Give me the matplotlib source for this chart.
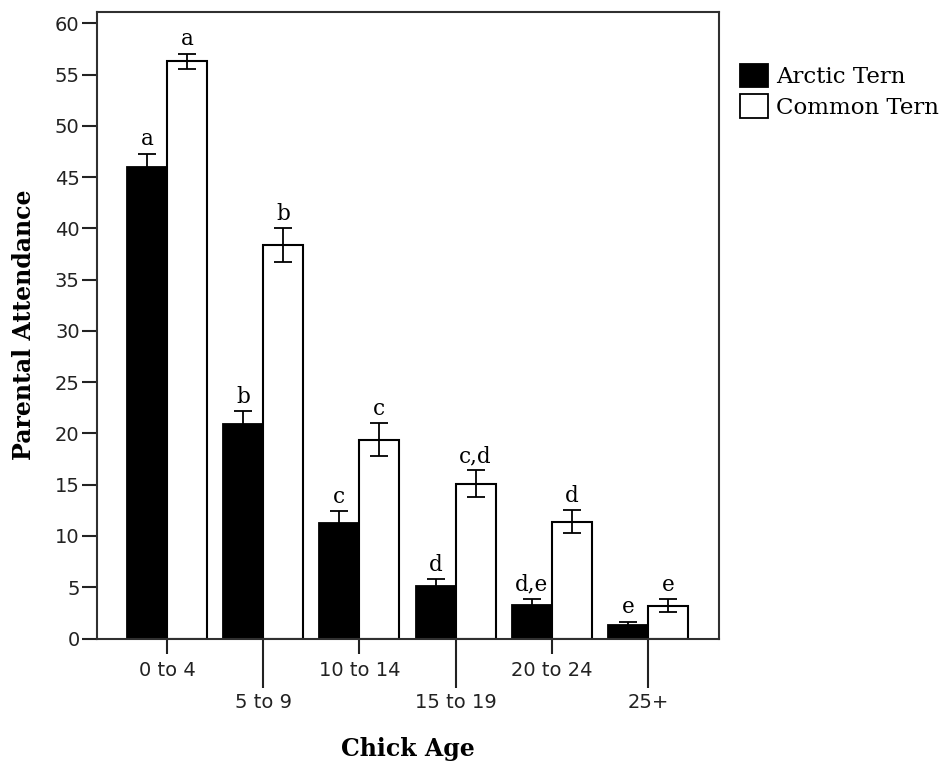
"""Parental attendance by chick age, Arctic vs Common Tern."""

import matplotlib

matplotlib.use("Agg")
import matplotlib.pyplot as plt
from matplotlib.patches import Patch
import numpy as np

age_groups = ["0 to 4", "5 to 9", "10 to 14", "15 to 19", "20 to 24", "25+"]
arctic_mean = [46.0, 20.9, 11.3, 5.1, 3.3, 1.3]
arctic_err = [1.3, 1.3, 1.1, 0.7, 0.6, 0.35]
common_mean = [56.3, 38.4, 19.4, 15.1, 11.4, 3.2]
common_err = [0.75, 1.65, 1.6, 1.3, 1.1, 0.65]
arctic_letters = ["a", "b", "c", "d", "d,e", "e"]
common_letters = ["a", "b", "c", "c,d", "d", "e"]

W, H = 948, 767
fig = plt.figure(figsize=(W / 100, H / 100), dpi=100)
ax = fig.add_axes([97 / W, 1 - 638.5 / H, 622 / W, 626.5 / H])

x = np.arange(len(age_groups))
width = 0.416
ekw = dict(ecolor="black", elinewidth=1.3, capsize=6.5, capthick=1.3)

ax.bar(x - width / 2, arctic_mean, width, color="black", edgecolor="black",
       linewidth=1.3, yerr=arctic_err, error_kw=ekw, zorder=2)
ax.bar(x + width / 2, common_mean, width, color="white", edgecolor="black",
       linewidth=1.5, yerr=common_err, error_kw=ekw, zorder=2)

letter_font = dict(family="DejaVu Serif", fontsize=15.5, color="black")
for i in range(len(age_groups)):
    ax.annotate(arctic_letters[i], (x[i] - width / 2, arctic_mean[i] + arctic_err[i]),
                xytext=(0, 6), textcoords="offset points", ha="center",
                va="baseline", **letter_font)
    ax.annotate(common_letters[i], (x[i] + width / 2, common_mean[i] + common_err[i]),
                xytext=(0, 6), textcoords="offset points", ha="center",
                va="baseline", **letter_font)

ax.set_xlim(-0.728, 5.738)
ax.set_ylim(0, 61.1)
ax.set_yticks(np.arange(0, 61, 5))
ax.tick_params(axis="y", length=10.5, width=1.5, pad=2, labelsize=14,
               colors="#222222")

# alternating short / long x ticks
ax.set_xticks(x[0::2])
ax.set_xticklabels(age_groups[0::2])
ax.set_xticks(x[1::2], minor=True)
ax.set_xticklabels(age_groups[1::2], minor=True)
ax.tick_params(axis="x", which="major", length=11, width=1.5, pad=5.5,
               labelsize=14, colors="#222222")
ax.tick_params(axis="x", which="minor", length=35, width=1.5, pad=4,
               labelsize=14, colors="#222222")

for sp in ax.spines.values():
    sp.set_linewidth(1.5)
    sp.set_color("#303030")

fig.text(24 / W, 1 - 325 / H, "Parental Attendance", rotation=90,
         ha="center", va="center", family="DejaVu Serif", fontweight="bold",
         fontsize=17)
fig.text(408 / W, 1 - 749 / H, "Chick Age", ha="center", va="center",
         family="DejaVu Serif", fontweight="bold", fontsize=17)

handles = [Patch(facecolor="black", edgecolor="black", linewidth=1.3),
           Patch(facecolor="white", edgecolor="black", linewidth=1.3)]
fig.legend(handles, ["Arctic Tern", "Common Tern"], loc="upper left",
           bbox_to_anchor=(740 / W, 1 - 64 / H), frameon=False,
           prop=dict(family="DejaVu Serif", size=16.5), borderpad=0,
           borderaxespad=0, handlelength=1.2, handleheight=1.2,
           handletextpad=0.38, labelspacing=0.25)

fig.savefig("out.png", dpi=100)
plt.close(fig)
